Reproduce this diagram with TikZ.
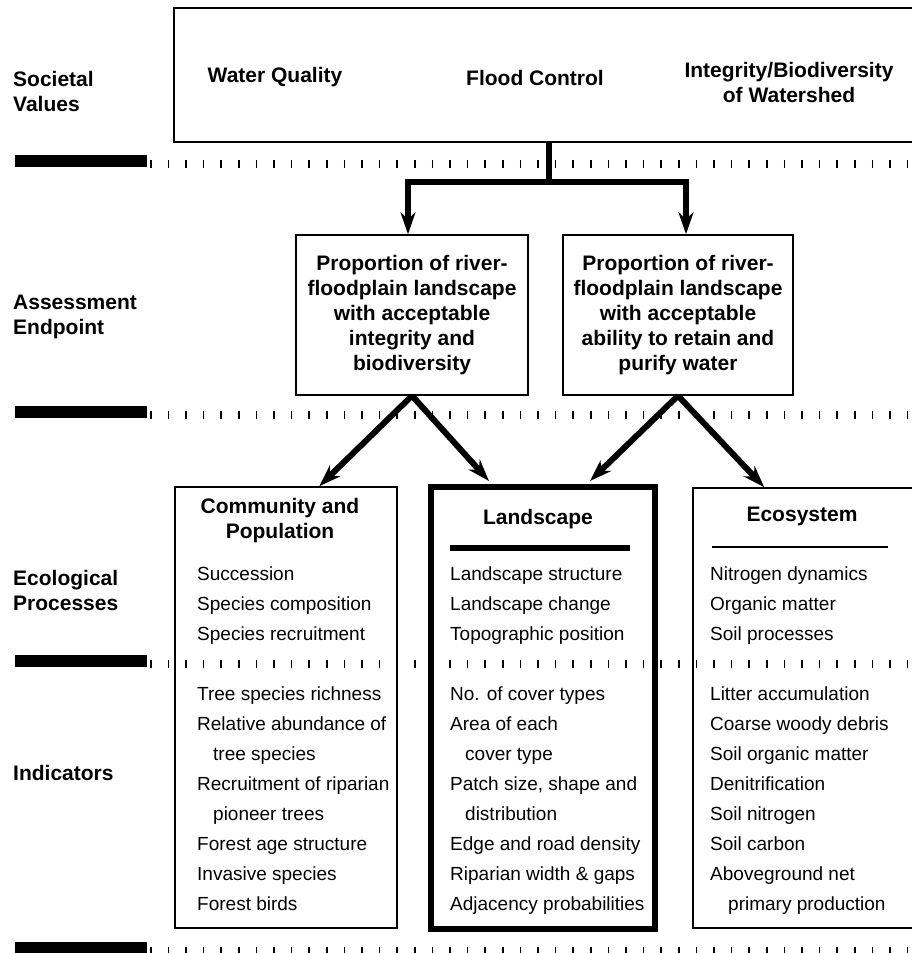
\documentclass[tikz,border=0pt]{standalone}
\usepackage{fontspec}
\setmainfont{Liberation Sans}
\usepackage{tikz}
\usetikzlibrary{positioning}
\usetikzlibrary{arrows.meta}

\begin{document}
\begin{tikzpicture}[x=1pt,y=-1pt,
  lbl/.style={anchor=base west,align=left,inner sep=0pt,font=\fontsize{21}{25}\selectfont\bfseries},
  hd/.style={align=center,font=\fontsize{21}{25}\selectfont\bfseries},
  itm/.style={anchor=base west,inner sep=0pt,font=\fontsize{19}{23}\selectfont},
  box/.style={draw,line width=1.5pt,inner sep=0pt},
  ticks/.style={line width=8pt,dash pattern=on 1.6pt off 16pt},
  arr/.style={line width=6pt,line join=miter,-{Stealth[length=22pt,width=15pt,inset=7pt]}}]
\useasboundingbox (0,0) rectangle (911,953);
\foreach \y in {161,412,661,948} {
\fill (15,\y-6) rectangle (147,\y+6);
\draw[ticks] (150,\y+3) -- (911,\y+3);
}
\node[lbl] (sval) at (13,111) {Societal\\Values};
\node[lbl] (aend) at (13,334) {Assessment\\Endpoint};
\node[lbl] (eproc) at (13,610) {Ecological\\Processes};
\node[lbl] (ind) at (13,780) {Indicators};

\node[box,minimum width=756pt,minimum height=134pt] (sv) at (552,75) {};
\node[hd] (wq) at (275,77) {Water Quality};
\node[hd] (fc) at (535,78) {Flood Control};
\node[hd] (ib) at (789,82) {Integrity/Biodiversity\\of Watershed};

\node[box,hd,minimum width=232pt,minimum height=160pt] (lep) at (412,315) {Proportion of river-\\floodplain landscape\\with acceptable\\integrity and\\biodiversity};
\node[box,hd,minimum width=230pt,minimum height=160pt] (rep) at (678,315) {Proportion of river-\\floodplain landscape\\with acceptable\\ability to retain and\\purify water};

\node[box,minimum width=222pt,minimum height=441pt] (com) at (286,707.5) {};
\node[box,line width=6pt,minimum width=224pt,minimum height=442pt] (lan) at (543,708) {};
\node[box,minimum width=237pt,minimum height=440pt] (eco) at (811.5,708) {};
\node[hd] (comhd) at (280,521) {Community and\\Population};
\node[hd] (lanhd) at (538,519) {Landscape};
\node[hd] (ecohd) at (802,516.5) {Ecosystem};
\draw[line width=6pt] (450,548) -- (630,548);
\draw[line width=1.5pt] (712,547) -- (888,547);

\coordinate (fork) at (549,182);
\draw[arr] (sv.south -| fork) -- (fork) -| ([xshift=-4pt]lep.north);
\draw[arr] (fork) -| ([xshift=8pt]rep.north);
\draw[arr] (lep.south) -- ([xshift=145pt]com.north west);
\draw[arr] (lep.south) -- ([xshift=61pt,yshift=3pt]lan.north west);
\draw[arr] (rep.south) -- ([xshift=162pt,yshift=3pt]lan.north west);
\draw[arr] (rep.south) -- ([xshift=72pt]eco.north west);

\foreach \k/\t in {0/Succession,1/Species composition,2/Species recruitment,
  4/Tree species richness,5/Relative abundance of,6/\hspace*{16pt}tree species,
  7/Recruitment of riparian,8/\hspace*{16pt}pioneer trees,9/Forest age structure,
  10/Invasive species,11/Forest birds}
  \node[itm] (com\k) at (197,580+30*\k) {\t};
\foreach \k/\t in {0/Landscape structure,1/Landscape change,2/Topographic position,
  4/No. of cover types,5/Area of each,6/\hspace*{15pt}cover type,
  7/{Patch size, shape and},8/\hspace*{15pt}distribution,9/Edge and road density,
  10/Riparian width \& gaps,11/Adjacency probabilities}
  \node[itm] (lan\k) at (450,580+30*\k) {\t};
\foreach \k/\t in {0/Nitrogen dynamics,1/Organic matter,2/Soil processes,
  4/Litter accumulation,5/Coarse woody debris,6/Soil organic matter,
  7/Denitrification,8/Soil nitrogen,9/Soil carbon,10/Aboveground net,
  11/\hspace*{18pt}primary production}
  \node[itm] (eco\k) at (710,580+30*\k) {\t};
\end{tikzpicture}
\end{document}
